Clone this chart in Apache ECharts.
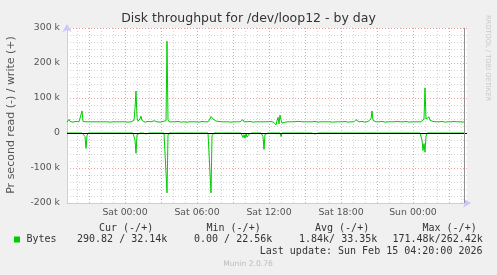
<!DOCTYPE html>
<html><head><meta charset="utf-8">
<script src="https://cdn.jsdelivr.net/npm/echarts@6/dist/echarts.min.js"></script>
<style>html,body{margin:0;padding:0;background:#f0f0f0}#c{width:497px;height:275px}</style>
</head><body><div id="c"></div>
<script>
// ---------- data ----------
const chartTitle = 'Disk throughput for /dev/loop12 - by day';
const yAxisName = 'Pr second read (-) / write (+)';
const xTickHours = [0, 6, 12, 18, 24];
const xTickLabels = ['Sat 00:00', 'Sat 06:00', 'Sat 12:00', 'Sat 18:00', 'Sun 00:00'];
const yTickValues = [-200, -100, 0, 100, 200, 300];
const startHour = -29 / 6;      // Fri 19:10, relative to Sat 00:00
const stepHours = 5 / 60;       // 5 minute samples
// write (+), kB/s
const writeK = [
  31,33,39,33,32,32,31,32,32,33,32,31,32,33,32,63,33,31,32,32,
  32,31,32,32,33,32,32,31,32,32,33,32,31,31,32,33,32,32,31,32,
  32,33,32,31,32,30,32,33,32,32,31,33,32,32,33,32,31,32,32,33,
  32,31,32,33,32,32,31,36,70,120,45,34,33,40,48,36,33,32,31,32,
  32,33,32,31,32,32,33,35,40,32,32,33,32,31,32,32,33,32,31,35,
  262,38,32,32,31,32,33,32,32,31,32,33,32,32,31,32,33,32,32,32,
  31,32,33,32,32,33,32,31,32,32,33,32,31,32,32,33,32,31,32,33,
  32,32,34,40,47,44,40,37,35,34,33,32,33,32,31,32,32,33,32,31,
  32,32,33,32,31,32,33,32,32,31,32,33,32,32,33,36,38,32,33,35,
  32,31,32,33,32,32,31,32,33,32,32,31,32,36,33,32,32,31,32,33,
  32,32,31,32,33,32,31,30,32,23,35,45,26,51,38,28,33,32,31,32,
  33,32,32,31,32,33,32,32,31,32,33,32,32,33,32,31,32,32,33,32,
  32,31,32,33,32,32,31,32,33,32,32,31,32,33,32,32,31,32,33,32,
  32,31,32,32,33,32,31,32,33,32,32,31,32,33,32,32,31,32,33,32,
  32,31,32,33,32,32,33,32,35,38,40,35,32,31,32,33,32,32,31,32,
  32,33,32,32,40,63,36,32,31,32,33,32,32,31,32,33,32,32,31,32,
  33,32,32,31,32,33,32,32,31,32,33,32,31,32,33,32,32,31,32,33,
  32,32,31,32,33,32,32,31,32,33,32,32,31,32,32,33,32,40,129,40,
  35,38,46,36,40,34,33,32,31,32,33,32,32,31,32,33,32,32,31,32,
  33,32,32,31,32,33,32,33,32,31,32,33,32,32,33,32,31,32
];
// read (-), kB/s
const readK = [
  0,0,0,0,0,0,0,0,0,0,0,0,0,0,0,0,0,0,-10,-44,
  -8,0,0,0,0,0,0,0,0,0,0,0,0,0,0,0,0,0,0,0,
  0,0,0,0,0,0,0,0,0,0,0,0,0,0,0,0,0,0,0,0,
  0,0,0,0,0,0,0,0,-20,-58,-5,0,0,0,0,0,0,0,0,-3,
  0,0,0,0,0,0,0,0,0,0,0,0,0,0,0,0,0,0,0,0,
  -171,-6,0,0,0,0,0,0,0,0,0,0,0,0,0,0,0,0,0,0,
  0,0,0,0,0,0,0,0,0,0,0,0,0,0,0,0,0,0,0,0,
  0,0,0,0,-171,-8,-4,0,0,0,0,0,0,0,0,0,0,0,0,0,
  0,0,0,0,0,0,0,0,0,0,0,0,0,0,0,0,-13,-5,-15,-2,
  -12,-16,-3,0,0,0,0,0,0,0,0,0,0,0,0,0,-10,-47,-4,0,
  0,0,0,0,0,0,0,0,0,0,0,0,0,0,-10,0,0,0,0,0,
  0,0,0,0,0,0,0,0,0,0,0,0,0,0,0,0,0,0,0,0,
  0,0,0,0,0,0,0,0,-3,0,0,0,0,0,0,-3,0,0,0,0,
  0,0,0,0,0,0,0,0,0,0,0,0,0,0,0,0,0,0,0,0,
  0,0,0,0,0,0,0,0,0,0,0,0,0,0,0,0,0,0,0,0,
  0,0,0,0,0,0,0,0,0,0,0,0,0,0,0,0,0,0,0,0,
  0,0,0,0,0,0,0,0,0,0,0,0,0,0,0,0,0,0,0,0,
  0,0,0,0,0,0,0,0,0,0,0,0,0,0,0,-20,-50,-30,-55,-10,
  0,0,0,0,0,0,0,0,0,0,0,0,0,0,0,0,0,0,0,0,
  0,0,0,0,0,0,0,0,0,0,0,0,0,0,0,0,0,0
];
const legendName = 'Bytes';
const legendHeaders = ['Cur (-/+)', 'Min (-/+)', 'Avg (-/+)', 'Max (-/+)'];
const legendValues = ['290.82 / 32.14k', '0.00 / 22.56k', '1.84k/ 33.35k', '171.48k/262.42k'];
const lastUpdate = 'Last update: Sun Feb 15 04:20:00 2026';
const footer = 'Munin 2.0.76';
const sideText = 'RRDTOOL / TOBI OETIKER';

// ---------- chart ----------
const GREEN = '#00cc00';
const Y_MIN = -200, Y_MAX = 300;
const xMin = startHour, xMax = startHour + 400 / 12;
const toPts = arr => arr.map((v, i) => [startHour + i * stepHours, v]);
const endHour = startHour + (writeK.length - 1) * stepHours;

const minorV = [], majorV = [];
for (let h = Math.ceil(xMin); h <= Math.floor(xMax); h++) {
  if (((h % 3) + 3) % 3 === 0) majorV.push([h, 0]); else minorV.push([h, 0]);
}

const mono = '10px "DejaVu Sans Mono"';
const txt = (x, y, text, font, fill, align, extra) => Object.assign({
  type: 'text', x, y, silent: true,
  style: { text, font, fill, align: align || 'left', verticalAlign: 'middle' }
}, extra || {});

const headerX = [99, 206.5, 315, 422.5];
const valueX = [77, 194, 299, 392.5];
const graphic = [
  txt(248.5, 19, chartTitle, '12.5px "DejaVu Sans"', '#333', 'center'),
  txt(11, 115, yAxisName, '11px "DejaVu Sans"', '#555', 'center', { rotation: Math.PI / 2 }),
  txt(488, 58, sideText, '6.7px "DejaVu Sans"', '#c8c8c8', 'center', { rotation: -Math.PI / 2 }),
  { type: 'rect', shape: { x: 14, y: 236.5, width: 6, height: 6 }, style: { fill: GREEN }, silent: true },
  txt(26.5, 239.5, legendName, mono, '#333'),
  txt(482.5, 251.5, lastUpdate, mono, '#333', 'right'),
  txt(248, 264, footer, '7.6px "DejaVu Sans"', '#bbb', 'center')
];
legendHeaders.forEach((t, i) => graphic.push(txt(headerX[i], 228, t, mono, '#333')));
legendValues.forEach((t, i) => graphic.push(txt(valueX[i], 239.5, t, mono, '#333')));

// vertical line drawn through the axis scales
const vLineSeries = (data, color, dash, z) => ({
  type: 'custom', data, z, silent: true, clip: false,
  renderItem: (params, api) => {
    const top = api.coord([api.value(0), Y_MAX]);
    const bot = api.coord([api.value(0), Y_MIN]);
    const x = Math.round(top[0]) + 0.5;
    return { type: 'line', shape: { x1: x, y1: top[1], x2: x, y2: bot[1] },
      style: { stroke: color, lineWidth: 1, lineDash: dash } };
  }
});
const hLineSeries = (data, color, width, z) => ({
  type: 'custom', data, z, silent: true, clip: false,
  renderItem: (params, api) => {
    const l = api.coord([xMin, api.value(1)]);
    const r = api.coord([xMax, api.value(1)]);
    const y = Math.round(l[1]) + 0.5;
    return { type: 'line', shape: { x1: l[0], y1: y, x2: r[0], y2: y },
      style: { stroke: color, lineWidth: width } };
  }
});

const chart = echarts.init(document.getElementById('c'), null, { renderer: 'canvas' });
chart.setOption({
  animation: false,
  backgroundColor: '#f0f0f0',
  grid: { left: 67, top: 28, width: 400, height: 175, show: true, backgroundColor: '#ffffff', borderWidth: 0 },
  xAxis: {
    type: 'value', min: xMin, max: xMax,
    axisLine: { onZero: false, lineStyle: { color: '#c8c8ff' }, symbol: ['none', 'arrow'], symbolSize: [7, 8], symbolOffset: [0, 4] },
    axisTick: { show: false },
    splitLine: { show: false },
    axisLabel: {
      customValues: xTickHours,
      formatter: v => xTickLabels[xTickHours.indexOf(Math.round(v))] || '',
      color: '#555', fontFamily: 'DejaVu Sans', fontSize: 9.33, margin: 5
    }
  },
  yAxis: [
    {
      type: 'value', min: Y_MIN, max: Y_MAX, interval: 20,
      axisLine: { show: false }, axisTick: { show: false }, axisLabel: { show: false },
      splitLine: { lineStyle: { color: '#d4d4d4', type: [1, 2] } }
    },
    {
      type: 'value', min: Y_MIN, max: Y_MAX, interval: 100, position: 'left',
      axisLine: { show: true, lineStyle: { color: '#c8c8ff' }, symbol: ['none', 'arrow'], symbolSize: [7, 8], symbolOffset: [0, 4] },
      axisTick: { show: false },
      axisLabel: { formatter: v => v === 0 ? '0' : v + ' k', color: '#555', fontFamily: 'DejaVu Sans', fontSize: 9.33, margin: 7 },
      splitLine: { lineStyle: { color: '#f0a0a0', type: [1, 2] } }
    }
  ],
  series: [
    vLineSeries(minorV, '#d4d4d4', [1, 2], 1),
    vLineSeries(majorV, '#f0a0a0', [1, 2], 1),
    { name: 'write', type: 'line', data: toPts(writeK), showSymbol: false, symbol: 'none', z: 3, color: GREEN, lineStyle: { color: GREEN, width: 1 } },
    { name: 'read', type: 'line', data: toPts(readK), showSymbol: false, symbol: 'none', z: 3, color: GREEN, lineStyle: { color: GREEN, width: 1 } },
    hLineSeries([[0, 0]], '#000000', 1, 5),
    vLineSeries([[endHour, 0]], '#909090', null, 5)
  ],
  graphic: graphic
});
</script>
</body></html>
